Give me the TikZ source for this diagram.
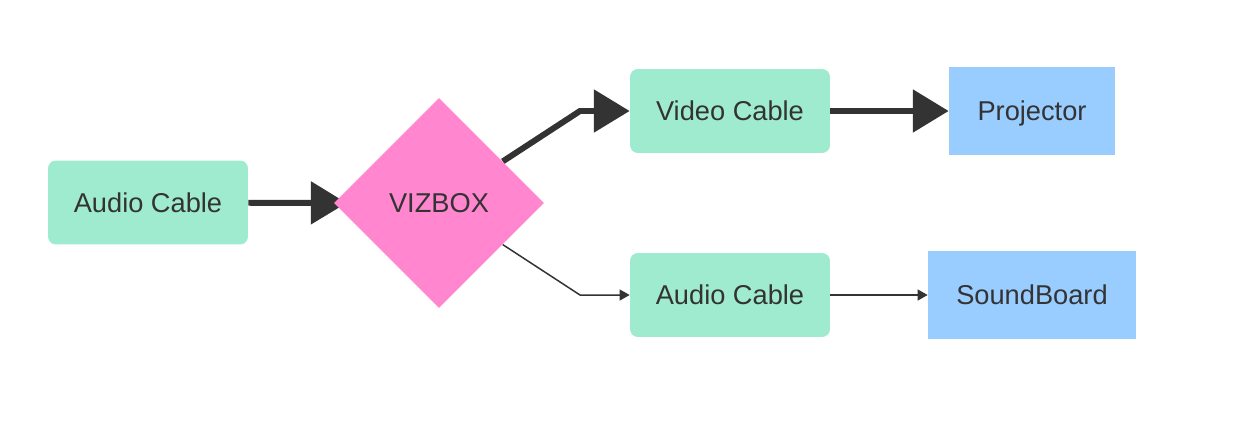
\documentclass[tikz,border=0pt]{standalone}
\usepackage{fontspec}
\setmainfont{Liberation Sans}
\usetikzlibrary{arrows.meta,
  positioning,
  shapes.geometric,
  backgrounds
}
\definecolor{mint}{HTML}{9FEBD0}
\definecolor{pinkbox}{HTML}{FF86CF}
\definecolor{skyblue}{HTML}{99CCFF}
\definecolor{inkgray}{HTML}{333333}
\tikzstyle{cablebox} = [rectangle, rounded corners=4.5pt, fill=mint,
  minimum width=4cm, minimum height=1.68cm, inner sep=0pt,
  text height=11pt, text depth=0pt]
\tikzstyle{devbox} = [rectangle, fill=skyblue, minimum height=1.76cm,
  inner sep=0pt, text height=11pt, text depth=0pt]
\tikzstyle{hubbox} = [diamond, fill=pinkbox, minimum width=4.2cm,
  minimum height=4.2cm, inner sep=0pt, text height=11pt, text depth=0pt]
\tikzstyle{fatlink} = [draw=inkgray, line width=3.4pt,
  -{Triangle[length=20.4pt, width=23.8pt]}]
\tikzstyle{thinlink} = [draw=inkgray, line width=0.85pt,
  -{Triangle[length=5.7pt, width=6.2pt]}]

\begin{document}
\begin{tikzpicture}[x=0.02cm, y=-0.02cm, text=inkgray,
  font=\fontsize{15.5}{18}\selectfont]
  \useasboundingbox (0, 0) rectangle (1235, 444);

  \node[cablebox] (audioin) at (148, 202.5) {Audio Cable};
  \node[hubbox] (vizbox) at (439, 203) {VIZBOX};
  \node[cablebox] (video) at (730, 111) {Video Cable};
  \node[cablebox] (audioout) at (730, 295) {Audio Cable};
  \node[devbox, minimum width=3.32cm] (proj) at (1032, 111) {Projector};
  \node[devbox, minimum width=4.16cm] (sound) at (1032, 295) {SoundBoard};

  \coordinate (bendup) at (580, 111);
  \coordinate (benddown) at (580, 295);

  \begin{scope}[on background layer]
    \draw[fatlink] (audioin) -- ([xshift=0.26cm]vizbox.west);
    \draw[fatlink] (vizbox) -- (bendup) -- (video);
    \draw[fatlink] (video) -- (proj);
    \draw[thinlink] (vizbox) -- (benddown) -- (audioout);
    \draw[thinlink] (audioout) -- (sound);
  \end{scope}
\end{tikzpicture}
\end{document}
